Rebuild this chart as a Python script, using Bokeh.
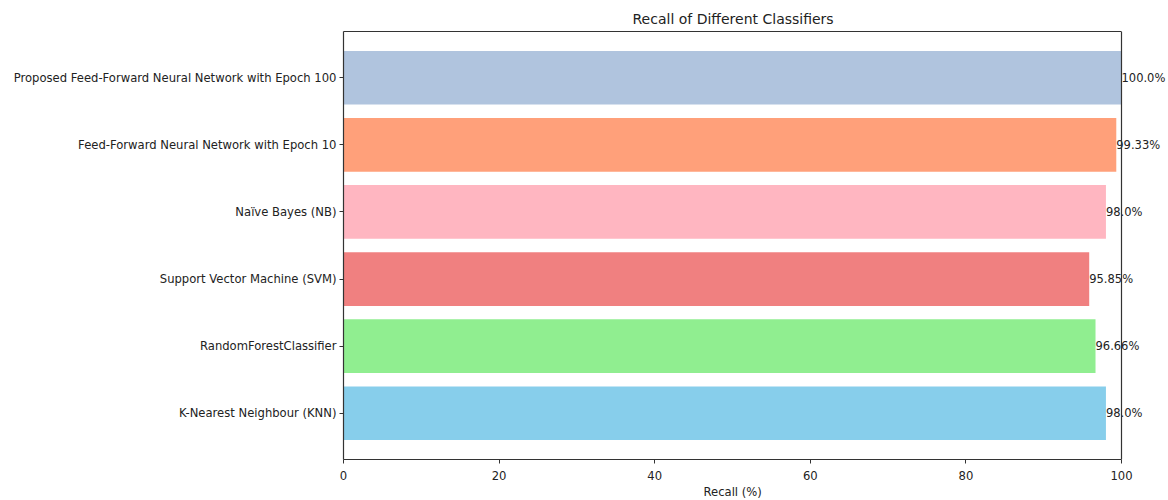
from bokeh.plotting import figure
from bokeh.models import (FactorRange, Range1d, FixedTicker, ColumnDataSource, LabelSet,
                          LinearAxis, Span, Title)
from bokeh.core.properties import value
from bokeh.embed import file_html
from bokeh.resources import INLINE

# Classifier recall scores (bottom to top)
classifiers = [
    "K-Nearest Neighbour (KNN)",
    "RandomForestClassifier",
    "Support Vector Machine (SVM)",
    "Naïve Bayes (NB)",
    "Feed-Forward Neural Network with Epoch 10",
    "Proposed Feed-Forward Neural Network with Epoch 100",
]
recall = [98.0, 96.66, 95.85, 98.0, 99.33, 100.0]
bar_colors = ["#87CEEB", "#90EE90", "#F08080", "#FFB6C1", "#FFA07A", "#B0C4DE"]
x_ticks = [0, 20, 40, 60, 80, 100]
x_max = 100

labels = [f"{v}%" for v in recall]
source = ColumnDataSource(dict(name=classifiers, recall=recall, color=bar_colors, label=labels))

FONT = "DejaVu Sans"
SPINE = "#333333"
TEXT = "#222222"
LEFT, RIGHT_EDGE = 343, 1121  # pixel span of the 0..100 axis
WIDTH = 1168

# the frame runs to the page edge so the value labels past 100 stay visible;
# the visible axes box still ends at x = 100
x_end = x_max * (WIDTH - LEFT) / (RIGHT_EDGE - LEFT)

p = figure(
    width=WIDTH, height=500,
    y_range=FactorRange(*classifiers, range_padding=0.19, range_padding_units="absolute"),
    x_range=Range1d(0, x_end),
    output_backend="svg", toolbar_location=None,
    min_border_left=LEFT, min_border_right=0, min_border_top=31, min_border_bottom=41,
)
x_axis = p.below[0]
y_axis = p.left[0]

p.hbar(y="name", right="recall", left=0, height=0.8, color="color", line_color=None, source=source)

value_labels = LabelSet(x="recall", y="name", text="label", source=source,
                        text_align="left", text_baseline="middle",
                        text_font=value(FONT), text_font_size="11.5px", text_color=TEXT)
p.add_layout(value_labels)

# right spine at x = 100
p.add_layout(Span(location=x_max, dimension="height", line_color=SPINE, line_width=1.2))

# top spine: a bare axis above the frame limited to 0..100
top_axis = LinearAxis(ticker=FixedTicker(ticks=[]), bounds=(0, x_max),
                       axis_line_color=SPINE, axis_line_width=1.2,
                       major_tick_line_color=None, minor_tick_line_color=None,
                       major_label_text_font_size="0px",
                       major_tick_out=0, major_tick_in=0, major_label_standoff=0)
p.add_layout(top_axis, "above")

# title centred over the 0..100 span
p.add_layout(Title(text="Recall of Different Classifiers", align="left", offset=289,
                   text_font=FONT, text_font_size="14px", text_font_style="normal",
                   text_color=TEXT), "above")

# x-axis label centred under the 0..100 span
p.add_layout(Title(text="Recall (%)", align="left", offset=360,
                   text_font=FONT, text_font_size="11.6px", text_font_style="normal",
                   text_color=TEXT, standoff=0), "below")

p.xgrid.visible = False
p.ygrid.visible = False
p.outline_line_color = None

x_axis.ticker = FixedTicker(ticks=x_ticks)
x_axis.bounds = (0, x_max)
for ax in (x_axis, y_axis):
    ax.major_label_text_font = FONT
    ax.major_label_text_font_size = "11.6px"
    ax.major_label_text_color = TEXT
    ax.axis_line_color = SPINE
    ax.axis_line_width = 1.2
    ax.major_tick_line_color = SPINE
    ax.major_tick_out = 4
    ax.major_tick_in = 0
    ax.minor_tick_line_color = None
x_axis.major_label_standoff = 7
y_axis.major_label_standoff = 3

open("out.html", "w").write(file_html(p, INLINE))
